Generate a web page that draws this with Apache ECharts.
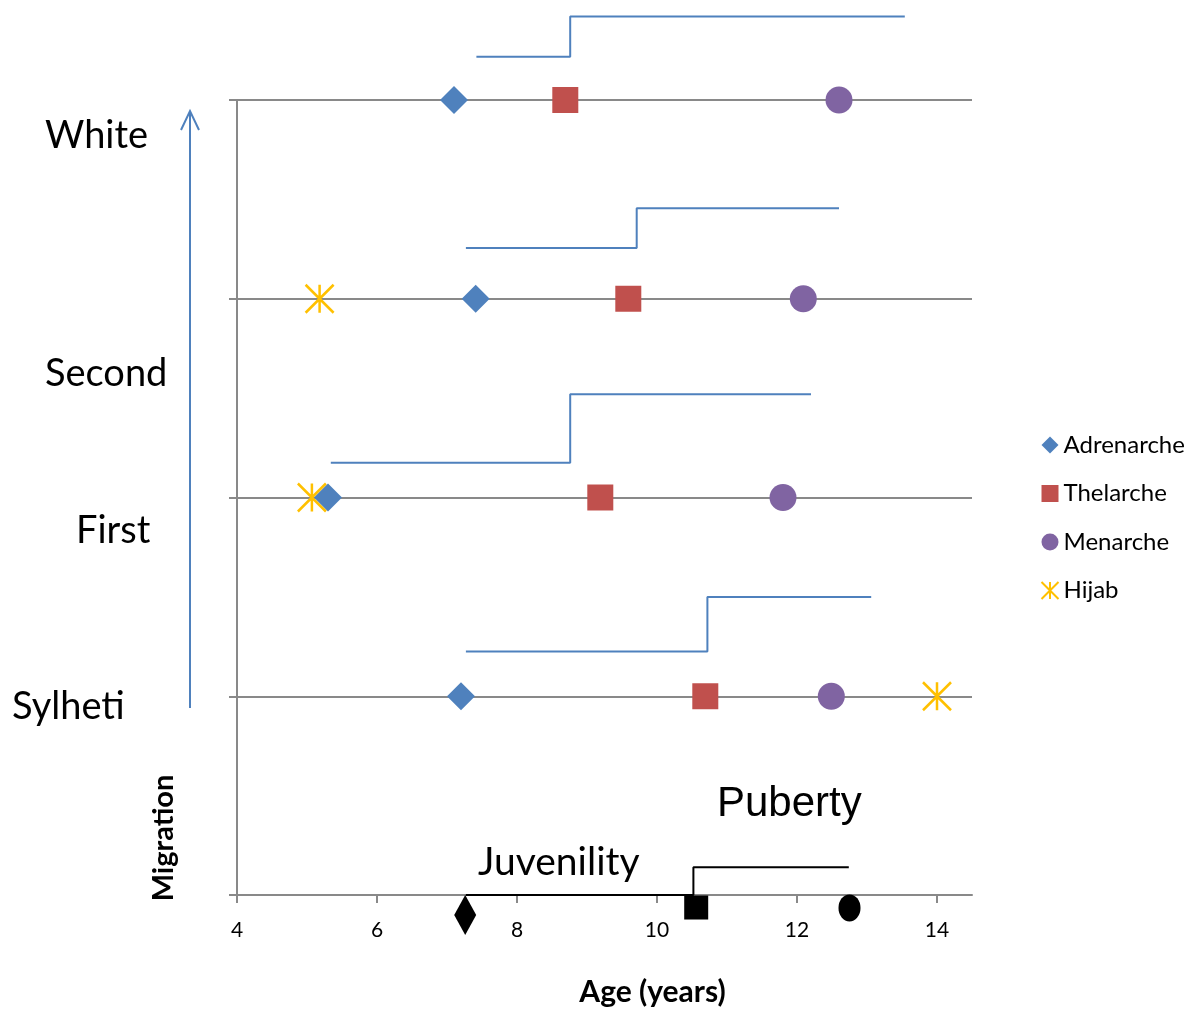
<!DOCTYPE html>
<html><head><meta charset="utf-8">
<script src="https://cdn.jsdelivr.net/npm/echarts@6/dist/echarts.min.js"></script>
<style>html,body{margin:0;padding:0;background:#fff;overflow:hidden}#c{width:1203px;height:1012px}</style>
</head><body><div id="c"></div>
<script>
// ---- data ----
const rowNames = ['Sylheti', 'First', 'Second', 'White'];
const rowLevels = [1, 2, 3, 4];
const adrenarche = [[7.20, 1], [5.30, 2], [7.41, 3], [7.10, 4]];
const thelarche = [[10.69, 1], [9.19, 2], [9.59, 3], [8.69, 4]];
const menarche = [[12.49, 1], [11.80, 2], [12.09, 3], [12.60, 4]];
const hijab = [[14.00, 1], [5.07, 2], [5.18, 3]];
// step lines per row (Sylheti, First, Second, White)
const stepStart = [7.27, 5.34, 7.27, 7.42];
const stepAt = [10.72, 8.76, 9.71, 8.76];
const stepEnd = [13.06, 12.20, 12.60, 13.54];
const stepLow = [1.225, 2.175, 3.255, 4.217];
const stepHigh = [1.50, 2.52, 3.455, 4.42];
// reference juvenility / puberty line
const refStart = 7.27, refAt = 10.52, refEnd = 12.74, refLow = 0, refHigh = 0.14;
const refDiamond = [[7.26, -0.10]];
const refSquare = [[10.56, -0.063]];
const refCircle = [[12.75, -0.065]];
const xTicks = [4, 6, 8, 10, 12, 14];
const legendNames = ['Adrenarche', 'Thelarche', 'Menarche', 'Hijab'];

const BLUE = '#4F81BD', RED = '#C0504D', PURPLE = '#8064A2', GOLD = '#FFC000', GRAY = '#898989';
const STAR = 'path://M0,0L10,10M10,0L0,10M5,0L5,10';
const FONT = 'Lato';

const stepSeries = rowLevels.map((lv, i) => ({
  type: 'line', silent: true, clip: false, symbol: 'none', z: 2,
  lineStyle: { color: BLUE, width: 2 },
  data: [[stepStart[i], stepLow[i]], [stepAt[i], stepLow[i]], [stepAt[i], stepHigh[i]], [stepEnd[i], stepHigh[i]]]
}));

const chart = echarts.init(document.getElementById('c'), null, { renderer: 'canvas' });
chart.setOption({
  animation: false,
  backgroundColor: '#fff',
  textStyle: { fontFamily: FONT },
  grid: { left: 237, right: 231, top: 100, bottom: 112, containLabel: false },
  legend: {
    orient: 'vertical', left: 1034, top: 428, itemGap: 24.5, itemWidth: 17, itemHeight: 17, itemTextGap: 5,
    data: legendNames,
    textStyle: { fontFamily: FONT, fontSize: 24, color: '#000' }
  },
  xAxis: {
    type: 'value', min: 4, max: 14.5, interval: 2,
    name: 'Age (years)', nameLocation: 'middle', nameGap: 82,
    nameTextStyle: { fontFamily: FONT, fontSize: 30, fontWeight: 'bold', color: '#000', padding: [0, 0, 0, 96] },
    axisLine: { show: true, lineStyle: { color: GRAY, width: 2 } },
    axisTick: { show: true, length: 8, customValues: xTicks, lineStyle: { color: GRAY, width: 2 } },
    axisLabel: { customValues: xTicks, fontFamily: FONT, fontSize: 21, color: '#000', margin: 25 },
    splitLine: { show: false }
  },
  yAxis: {
    type: 'value', min: 0, max: 4, interval: 1,
    axisLine: { show: true, lineStyle: { color: GRAY, width: 2 } },
    axisTick: { show: true, length: 8, lineStyle: { color: GRAY, width: 2 } },
    axisLabel: { show: false },
    splitLine: { show: true, lineStyle: { color: GRAY, width: 2 } }
  },
  series: [
    ...stepSeries,
    {
      type: 'line', silent: true, clip: false, symbol: 'none', z: 3,
      lineStyle: { color: '#000', width: 2 },
      data: [[refStart, refLow], [refAt, refLow], [refAt, refHigh], [refEnd, refHigh]]
    },
    { name: 'Adrenarche', type: 'scatter', clip: false, symbol: 'diamond', symbolSize: 28, z: 5,
      itemStyle: { color: BLUE, opacity: 1 }, data: adrenarche },
    { name: 'Thelarche', type: 'scatter', clip: false, symbol: 'rect', symbolSize: 26, z: 5,
      itemStyle: { color: RED, opacity: 1 }, data: thelarche },
    { name: 'Menarche', type: 'scatter', clip: false, symbol: 'circle', symbolSize: 27, z: 5,
      itemStyle: { color: PURPLE, opacity: 1 }, data: menarche },
    { name: 'Hijab', type: 'scatter', clip: false, symbol: STAR, symbolSize: 28, z: 4,
      itemStyle: { color: 'none', borderColor: GOLD, borderWidth: 2.5, opacity: 1 }, data: hijab },
    { type: 'scatter', clip: false, symbol: 'diamond', symbolSize: [22, 40], z: 5,
      itemStyle: { color: '#000', opacity: 1 }, data: refDiamond },
    { type: 'scatter', clip: false, symbol: 'rect', symbolSize: 24, z: 5,
      itemStyle: { color: '#000', opacity: 1 }, data: refSquare },
    { type: 'scatter', clip: false, symbol: 'circle', symbolSize: [22, 27], z: 5,
      itemStyle: { color: '#000', opacity: 1 }, data: refCircle }
  ],
  graphic: [
    { type: 'text', left: 45, top: 117, style: { text: rowNames[3], font: '38px Lato', fill: '#000' } },
    { type: 'text', left: 45, top: 355, style: { text: rowNames[2], font: '38px Lato', fill: '#000' } },
    { type: 'text', left: 76, top: 512, style: { text: rowNames[1], font: '38px Lato', fill: '#000' } },
    { type: 'text', left: 12, top: 688, style: { text: rowNames[0], font: '38px Lato', fill: '#000' } },
    { type: 'text', x: 164, y: 838, rotation: Math.PI / 2,
      style: { text: 'Migration', font: 'bold 29px Lato', fill: '#000', align: 'center', verticalAlign: 'middle' } },
    { type: 'text', left: 717, top: 783, style: { text: 'Puberty', font: '42px "Liberation Sans"', fill: '#000' } },
    { type: 'text', left: 478, top: 843, style: { text: 'Juvenility', font: '39px Lato', fill: '#000' } },
    { type: 'line', shape: { x1: 190, y1: 708, x2: 190, y2: 111 }, style: { stroke: BLUE, lineWidth: 2 } },
    { type: 'polyline', shape: { points: [[181, 130], [190, 111], [199, 130]] }, style: { stroke: BLUE, lineWidth: 2, fill: null } }
  ]
});
</script>
</body></html>
